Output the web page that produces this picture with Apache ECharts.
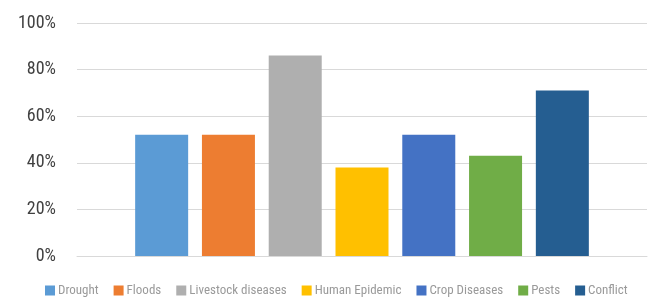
<!DOCTYPE html>
<html>
<head>
<meta charset="utf-8">
<script src="https://cdn.jsdelivr.net/npm/echarts@6/dist/echarts.min.js"></script>
<style>
    body { margin: 0; background: #fff; }
    #chart { width: 654px; height: 299px; }
</style>
</head>
<body>
<div id="chart"></div>
<script>
// hazards and share of respondents
const hazards = ['Drought', 'Floods', 'Livestock diseases', 'Human Epidemic', 'Crop Diseases', 'Pests', 'Conflict'];
const shares = [52, 52, 86, 38, 52, 43, 71];
const colors = ['#5b9bd5', '#ed7d31', '#afafaf', '#ffc000', '#4472c4', '#70ad47', '#255e91'];
const yTicks = [0, 20, 40, 60, 80, 100];

const font = '"Liberation Sans Narrow", "Roboto Condensed", Arial, sans-serif';

const chart = echarts.init(document.getElementById('chart'));

const series = hazards.map((name, i) => ({
    name: name,
    type: 'bar',
    data: [shares[i]],
    barWidth: 53,
    barGap: '26%',
    itemStyle: { color: colors[i] }
}));

chart.setOption({
    animation: false,
    color: colors,
    grid: { left: 77, right: 7, top: 23, bottom: 43 },
    legend: {
        top: 279,
        left: 40,
        width: 620,
        itemWidth: 10,
        itemHeight: 10,
        itemGap: 15,
        icon: 'rect',
        textStyle: { fontFamily: font, fontSize: 13, color: '#9a9a9a', padding: [0, 0, 0, -2] },
        data: hazards
    },
    xAxis: {
        type: 'category',
        data: [''],
        axisLine: { lineStyle: { color: '#d9d9d9', width: 1 } },
        axisTick: { show: false },
        axisLabel: { show: false }
    },
    yAxis: {
        type: 'value',
        min: yTicks[0],
        max: yTicks[yTicks.length - 1],
        interval: 20,
        axisLine: { show: false },
        axisTick: { show: false },
        splitLine: { lineStyle: { color: '#d9d9d9' } },
        axisLabel: {
            margin: 21,
            fontFamily: font,
            fontSize: 18,
            color: '#404040',
            formatter: '{value}%'
        }
    },
    series: series
});
</script>
</body>
</html>
